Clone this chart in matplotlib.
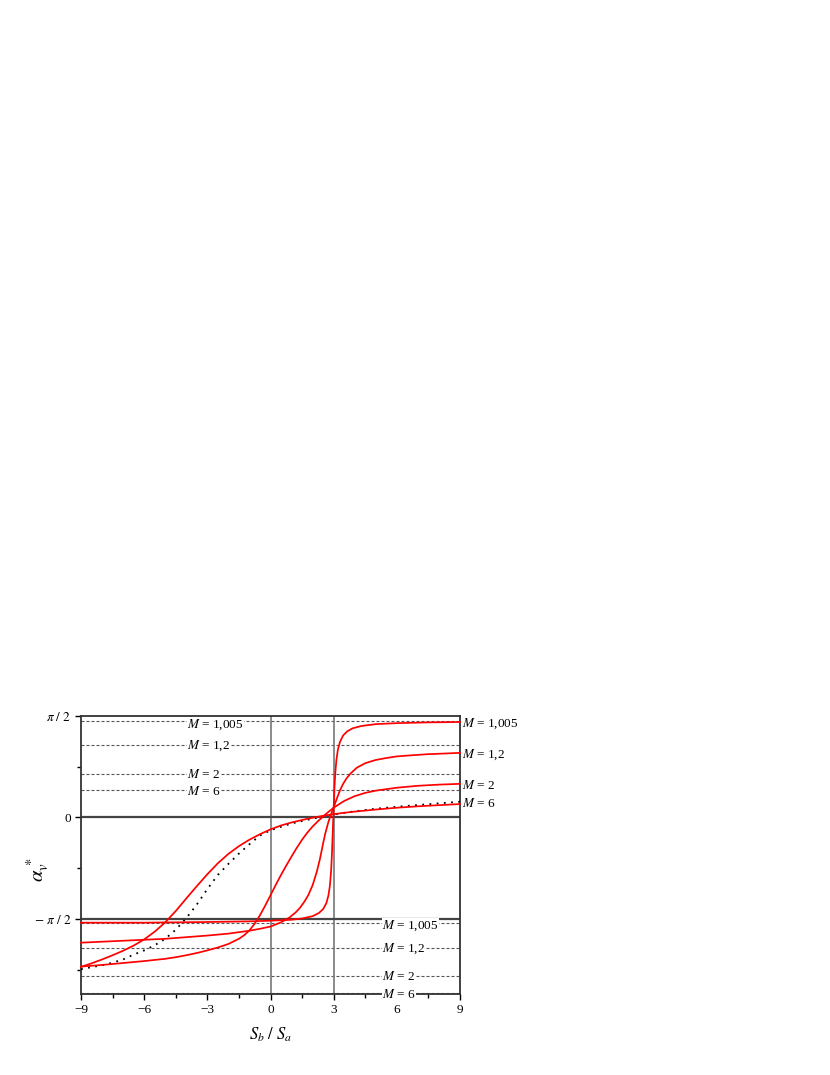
import numpy as np
import matplotlib.pyplot as plt
from matplotlib.ticker import MultipleLocator

plt.rcParams['font.family'] = ['Liberation Serif', 'DejaVu Serif']
plt.rcParams['mathtext.fontset'] = 'stix'

# values (x = Sb/Sa, y = alpha_v* in rad)
x_m1005 = [-9, -6, -3, -1, 0, 1, 1.5, 2, 2.3, 2.5, 2.65, 2.75, 2.82, 2.88, 2.92,
           2.96, 3.0, 3.04, 3.08, 3.13, 3.2, 3.3, 3.45, 3.65, 3.9, 4.3, 5, 6, 7.5, 9]
y_m1005 = [-1.63, -1.63, -1.62, -1.61, -1.60, -1.585, -1.565, -1.53, -1.48, -1.42,
           -1.33, -1.21, -1.06, -0.82, -0.55, -0.20, 0.15, 0.47, 0.70, 0.89, 1.05,
           1.17, 1.27, 1.335, 1.38, 1.415, 1.445, 1.46, 1.472, 1.478]

x_m12 = [-9, -7, -5, -3, -2, -1, -0.5, 0, 0.5, 0.9, 1.2, 1.4, 1.6, 1.8, 2.0, 2.2,
         2.35, 2.5, 2.6, 2.75, 2.9, 3.0, 3.1, 3.2, 3.3, 3.45, 3.6, 3.8, 4.1, 4.5,
         5.0, 5.5, 6.0, 6.6, 7.5, 8.3, 9]
y_m12 = [-1.94, -1.91, -1.88, -1.83, -1.80, -1.755, -1.725, -1.69, -1.625, -1.55,
         -1.47, -1.40, -1.31, -1.20, -1.05, -0.84, -0.64, -0.40, -0.25, -0.07, 0.07,
         0.155, 0.245, 0.335, 0.42, 0.52, 0.60, 0.68, 0.77, 0.84, 0.89, 0.92, 0.945,
         0.96, 0.98, 0.99, 1.00]

x_m2 = [-9, -8, -7, -6, -5, -4.5, -4, -3.5, -3, -2.5, -2, -1.5, -1.25, -1, -0.75,
        -0.5, -0.25, 0, 0.25, 0.5, 0.75, 1.0, 1.25, 1.5, 1.75, 2.0, 2.25, 2.5, 2.75,
        3.0, 3.5, 4, 4.5, 5, 6, 7, 8, 9]
y_m2 = [-2.31, -2.285, -2.255, -2.225, -2.19, -2.165, -2.135, -2.10, -2.06, -2.015,
        -1.96, -1.88, -1.825, -1.75, -1.645, -1.515, -1.365, -1.205, -1.045, -0.89,
        -0.745, -0.605, -0.47, -0.345, -0.235, -0.14, -0.06, 0.015, 0.085, 0.15,
        0.255, 0.33, 0.38, 0.415, 0.46, 0.49, 0.508, 0.52]

x_m6 = [-9, -8.5, -8, -7.5, -7, -6.5, -6, -5.5, -5, -4.5, -4, -3.5, -3, -2.5,
        -2, -1.5, -1, -0.5, 0, 0.5, 1, 1.5, 2, 2.5, 3, 3.5, 4, 5, 6, 7, 8, 9]
y_m6 = [-2.315, -2.26, -2.20, -2.135, -2.065, -1.985, -1.89, -1.77, -1.625, -1.45,
        -1.255, -1.065, -0.88, -0.71, -0.565, -0.445, -0.345, -0.26, -0.185, -0.125,
        -0.078, -0.04, -0.005, 0.025, 0.05, 0.072, 0.09, 0.122, 0.15, 0.172, 0.19,
        0.207]

x_dot = [-9, -8.5, -8, -7.5, -7, -6.5, -6, -5.5, -5, -4.5, -4, -3.5, -3, -2.5,
         -2, -1.5, -1, -0.5, 0, 0.5, 1, 1.5, 2, 2.5, 3, 4, 5, 6, 7, 8, 9]
y_dot = [-2.35, -2.32, -2.29, -2.25, -2.20, -2.125, -2.06, -1.98, -1.88, -1.74,
         -1.56, -1.35, -1.11, -0.89, -0.72, -0.56, -0.415, -0.28, -0.20, -0.145,
         -0.095, -0.055, -0.02, 0.015, 0.045, 0.095, 0.135, 0.165, 0.192, 0.218, 0.243]

m_labels = ['1,005', '1,2', '2', '6']
upper_asym = [1.492, 1.120, 0.672, 0.424]
lower_asym = [-1.634, -2.016, -2.461, -2.72]

x_ticks = [-9, -6, -3, 0, 3, 6, 9]
x_ticklabels = ['\u22129', '\u22126', '\u22123', '0', '3', '6', '9']
y_ticks = [np.pi / 2, 0, -np.pi / 2]
y_ticklabels = [r'$\pi\ /\ 2$', '0', r'$-\ \pi\ /\ 2$']

fig = plt.figure(figsize=(8.3, 10.75), dpi=100)
ax = fig.add_axes([81 / 830, 1 - 994 / 1075, 379 / 830, 278 / 1075])

# dashed asymptotes
for v in upper_asym + lower_asym:
    ax.axhline(v, color='#555555', lw=0.8, ls=(0, (2.7, 1.8)), zorder=1)

# reference lines
ax.axvline(0, color='#777777', lw=1.2, zorder=2)
ax.axvline(3, color='#777777', lw=1.2, zorder=2)
ax.axhline(0, color='#444444', lw=1.6, zorder=2)
ax.axhline(-np.pi / 2, color='#444444', lw=1.6, zorder=2)

# curves
for xs, ys in [(x_m1005, y_m1005), (x_m12, y_m12), (x_m2, y_m2), (x_m6, y_m6)]:
    ax.plot(xs, ys, color='#ff0000', lw=1.25, zorder=4, clip_on=False)
ax.plot(x_dot, y_dot, color='black', lw=1.3, ls=(0, (1, 3)), zorder=3)

ax.set_xlim(-9, 9)
ax.set_ylim(-2.735, np.pi / 2)

ax.set_xticks(x_ticks)
ax.set_xticklabels(x_ticklabels)
ax.xaxis.set_minor_locator(MultipleLocator(1.5))
ax.set_yticks(y_ticks)
ax.set_yticklabels(y_ticklabels)
ax.set_yticks([np.pi / 4, -np.pi / 4, -3 * np.pi / 4], minor=True)
ax.tick_params(which='major', direction='out', length=4, width=1, labelsize=9.5, pad=3)
ax.tick_params(which='minor', direction='out', length=3, width=1)

for sp in ax.spines.values():
    sp.set_color('#333333')
    sp.set_linewidth(1.3)

# labels on the dashed lines
box = dict(facecolor='white', edgecolor='none', pad=0.3)
upper_text_y = [1.44, 1.114, 0.661, 0.402]
lower_text_y = [-1.676, -2.027, -2.461, -2.749]
right_text_y = [1.445, 0.97, 0.49, 0.223]
for lab, yu, yl, yr in zip(m_labels, upper_text_y, lower_text_y, right_text_y):
    ax.text(-3.95, yu, r'$M$ = ' + lab, fontsize=9.5, va='center', ha='left',
            bbox=box, zorder=5)
    ax.text(5.3, yl, r'$M$ = ' + lab, fontsize=9.5, va='center', ha='left',
            bbox=box, zorder=6, clip_on=False)
    ax.text(9.1, yr, r'$M$ = ' + lab, fontsize=9.5, va='center', ha='left',
            clip_on=False)

ax.set_ylabel(r'$\alpha_{v}^{\,*}$', fontsize=15)
ax.yaxis.set_label_coords(-0.08, 0.446)
ax.set_xlabel(r'$S_b\ /\ S_a$', fontsize=12)
ax.xaxis.set_label_coords(0.5, -0.112)

fig.savefig('out.png', dpi=100)
